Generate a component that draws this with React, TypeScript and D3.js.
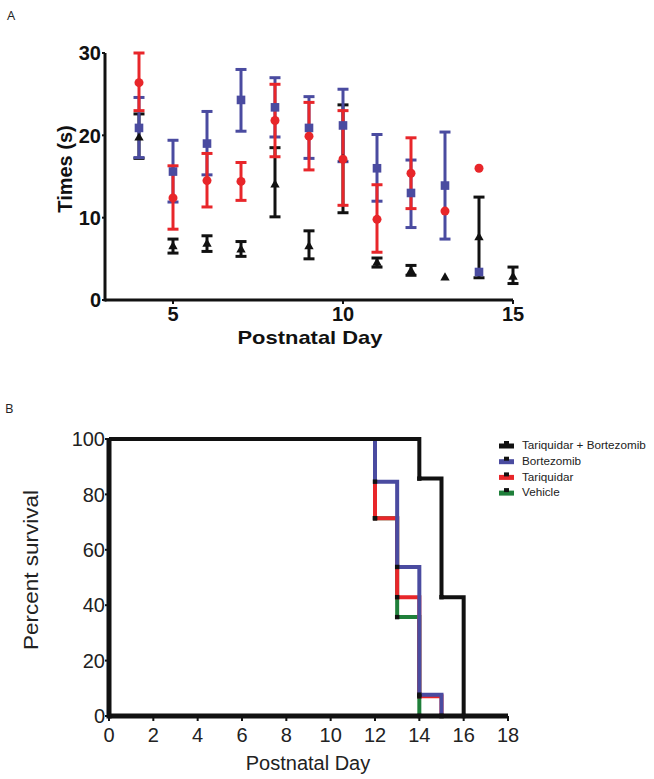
import React from "react";
import * as d3 from "d3";

// ---------- Panel A data ----------
const daysBlack = [4, 5, 6, 7, 8, 9, 10, 11, 12, 13, 14, 15];
const meanBlack = [19.7, 6.5, 6.8, 6.1, 14.0, 6.5, 17.1, 4.5, 3.5, 2.7, 7.6, 2.8];
const hiBlack = [22.6, 7.4, 7.8, 7.1, 18.5, 8.4, 23.7, 5.1, 4.2, null, 12.5, 4.0];
const loBlack = [17.2, 5.7, 5.9, 5.3, 10.1, 5.0, 10.6, 4.0, 3.0, null, 2.7, 2.0];

const daysBlue = [4, 5, 6, 7, 8, 9, 10, 11, 12, 13, 14];
const meanBlue = [20.9, 15.6, 19.0, 24.3, 23.4, 20.9, 21.2, 16.0, 13.0, 13.9, 3.4];
const hiBlue = [24.6, 19.4, 22.9, 28.0, 27.0, 24.7, 25.6, 20.1, 17.0, 20.4, null];
const loBlue = [17.3, 11.9, 15.2, 20.5, 19.8, 17.2, 16.8, 12.0, 8.8, 7.4, null];

const daysRed = [4, 5, 6, 7, 8, 9, 10, 11, 12, 13, 14];
const meanRed = [26.4, 12.4, 14.5, 14.4, 21.8, 19.9, 17.1, 9.8, 15.4, 10.8, 16.0];
const hiRed = [30.0, 16.3, 17.8, 16.7, 26.2, 24.0, 23.0, 14.0, 19.7, null, null];
const loRed = [23.0, 8.6, 11.3, 12.1, 17.4, 15.8, 11.5, 5.8, 11.1, null, null];

const ticksAX = [5, 10, 15];
const ticksAY = [0, 10, 20, 30];

// ---------- Panel B data ----------
const survNames = ["Tariquidar + Bortezomib", "Bortezomib", "Tariquidar", "Vehicle"];
const survColors = ["#111111", "#4a4ba0", "#e8262a", "#1f7f3a"];
const timesTB = [0, 14, 15, 16];
const survTB = [100, 85.7, 42.9, 0];
const timesB = [0, 12, 13, 14, 15];
const survB = [100, 84.6, 53.8, 7.7, 0];
const timesT = [0, 12, 13, 14, 15];
const survT = [100, 71.4, 42.9, 7.1, 0];
const timesV = [0, 12, 13, 14];
const survV = [100, 71.4, 35.7, 0];
const ticksBX = [0, 2, 4, 6, 8, 10, 12, 14, 16, 18];
const ticksBY = [0, 20, 40, 60, 80, 100];

const BLUE = "#4a4ba0";
const RED = "#e8262a";
const BLACK = "#111111";

function ErrorSeries({ days, hi, lo, color, x, y }: any) {
  return (
    <g>
      {days.map((d: number, i: number) =>
        hi[i] == null ? null : (
          <g key={i} stroke={color} strokeWidth={3}>
            <line x1={x(d)} x2={x(d)} y1={y(hi[i])} y2={y(lo[i])} />
            <line x1={x(d) - 5.5} x2={x(d) + 5.5} y1={y(hi[i])} y2={y(hi[i])} />
            <line x1={x(d) - 5.5} x2={x(d) + 5.5} y1={y(lo[i])} y2={y(lo[i])} />
          </g>
        )
      )}
    </g>
  );
}

export default function App() {
  // Panel A scales
  const xA = d3.scaleLinear().domain([3, 15]).range([105, 513]);
  const yA = d3.scaleLinear().domain([0, 30]).range([300, 53]);
  // Panel B scales
  const xB = d3.scaleLinear().domain([0, 18]).range([109, 508]);
  const yB = d3.scaleLinear().domain([0, 100]).range([716, 439]);

  const tri = d3.symbol().type(d3.symbolTriangle).size(38)();
  const stepLine = d3
    .line<[number, number]>()
    .x((p) => xB(p[0]))
    .y((p) => yB(p[1]))
    .curve(d3.curveStepAfter);

  const surv = [
    { t: timesV, s: survV, c: survColors[3] },
    { t: timesT, s: survT, c: survColors[2] },
    { t: timesB, s: survB, c: survColors[1] },
    { t: timesTB, s: survTB, c: survColors[0] },
  ];

  const font = "Liberation Sans, Arial, sans-serif";

  return (
    <svg
      width={654}
      height={779}
      style={{ position: "absolute", left: 0, top: 0, background: "#fff" }}
      fontFamily={font}
    >
      {/* Panel labels */}
      <text x={7} y={20} fontSize={13} fontFamily="Open Sans, sans-serif" fill="#222">A</text>
      <text x={5} y={413} fontSize={13} fontFamily="Open Sans, sans-serif" fill="#222">B</text>

      {/* ---------- Panel A ---------- */}
      <g>
        <line x1={xA(3)} x2={xA(15)} y1={yA(0)} y2={yA(0)} stroke={BLACK} strokeWidth={3} />
        <line x1={xA(3)} x2={xA(3)} y1={yA(0) + 1.5} y2={yA(30)} stroke={BLACK} strokeWidth={3} />
        {ticksAY.map((t) => (
          <g key={t}>
            <line x1={xA(3) - 3} x2={xA(3)} y1={yA(t)} y2={yA(t)} stroke={BLACK} strokeWidth={2} />
            <text x={xA(3) - 4} y={yA(t)} dy="0.36em" textAnchor="end" fontSize={20} fontWeight="bold" fill={BLACK}>
              {t}
            </text>
          </g>
        ))}
        {ticksAX.map((t) => (
          <g key={t}>
            <line x1={xA(t)} x2={xA(t)} y1={yA(0)} y2={yA(0) + 4} stroke={BLACK} strokeWidth={2} />
            <text x={xA(t)} y={321} textAnchor="middle" fontSize={20} fontWeight="bold" fill={BLACK}>
              {t}
            </text>
          </g>
        ))}
        <text
          x={310}
          y={344}
          textAnchor="middle"
          fontSize={19}
          fontWeight="bold"
          fill={BLACK}
          textLength={145}
          lengthAdjust="spacingAndGlyphs"
        >
          Postnatal Day
        </text>
        <text
          transform={`translate(72,${169}) rotate(-90)`}
          textAnchor="middle"
          fontSize={20}
          fontWeight="bold"
          fill={BLACK}
        >
          Times (s)
        </text>

        <ErrorSeries days={daysBlack} hi={hiBlack} lo={loBlack} color={BLACK} x={xA} y={yA} />
        <ErrorSeries days={daysBlue} hi={hiBlue} lo={loBlue} color={BLUE} x={xA} y={yA} />
        <ErrorSeries days={daysRed} hi={hiRed} lo={loRed} color={RED} x={xA} y={yA} />

        {daysBlack.map((d, i) => (
          <path key={"bt" + i} d={tri as string} transform={`translate(${xA(d)},${yA(meanBlack[i])})`} fill={BLACK} />
        ))}
        {daysBlue.map((d, i) => (
          <rect key={"bs" + i} x={xA(d) - 4.3} y={yA(meanBlue[i]) - 4.3} width={8.6} height={8.6} fill={BLUE} />
        ))}
        {daysRed.map((d, i) => (
          <circle key={"rc" + i} cx={xA(d)} cy={yA(meanRed[i])} r={4.5} fill={RED} />
        ))}
      </g>

      {/* ---------- Panel B ---------- */}
      <g>
        {surv.map((sv, k) => (
          <path
            key={k}
            d={stepLine(sv.t.map((t, i) => [t, sv.s[i]] as [number, number])) as string}
            fill="none"
            stroke={sv.c}
            strokeWidth={4}
          />
        ))}
        {surv.map((sv, k) =>
          sv.t.slice(1).map((t, i) => (
            <rect
              key={k + "-" + i}
              x={xB(t) - 2.2}
              y={yB(sv.s[i + 1]) - 2.2}
              width={4.4}
              height={4.4}
              fill={BLACK}
            />
          ))
        )}
        <line x1={xB(0)} x2={xB(18)} y1={yB(0)} y2={yB(0)} stroke={BLACK} strokeWidth={5} />
        <line x1={xB(0)} x2={xB(0)} y1={yB(0) + 2.5} y2={yB(100) - 1} stroke={BLACK} strokeWidth={5} />
        {ticksBY.map((t) => (
          <g key={t}>
            <line x1={xB(0) - 4} x2={xB(0)} y1={yB(t)} y2={yB(t)} stroke={BLACK} strokeWidth={2} />
            <text x={xB(0) - 4} y={yB(t)} dy="0.36em" textAnchor="end" fontSize={20} fill="#222">
              {t}
            </text>
          </g>
        ))}
        {ticksBX.map((t) => (
          <g key={t}>
            <line x1={xB(t)} x2={xB(t)} y1={yB(0)} y2={yB(0) + 5} stroke={BLACK} strokeWidth={2} />
            <text x={xB(t)} y={742} textAnchor="middle" fontSize={20} fill="#222">
              {t}
            </text>
          </g>
        ))}
        <text x={308} y={770} textAnchor="middle" fontSize={20} fill="#222">
          Postnatal Day
        </text>
        <text
          transform={`translate(38,570) rotate(-90)`}
          textAnchor="middle"
          fontSize={21}
          fill="#222"
          textLength={160}
          lengthAdjust="spacingAndGlyphs"
        >
          Percent survival
        </text>

        {survNames.map((n, i) => (
          <g key={n} transform={`translate(499,${445 + i * 15.7})`}>
            <rect x={0} y={-1.5} width={15} height={5} fill={survColors[i]} />
            <rect x={5} y={-4} width={5} height={4} fill={BLACK} />
            <text x={23} y={0} dy="0.36em" fontSize={11.7} fill="#222">
              {n}
            </text>
          </g>
        ))}
      </g>
    </svg>
  );
}
